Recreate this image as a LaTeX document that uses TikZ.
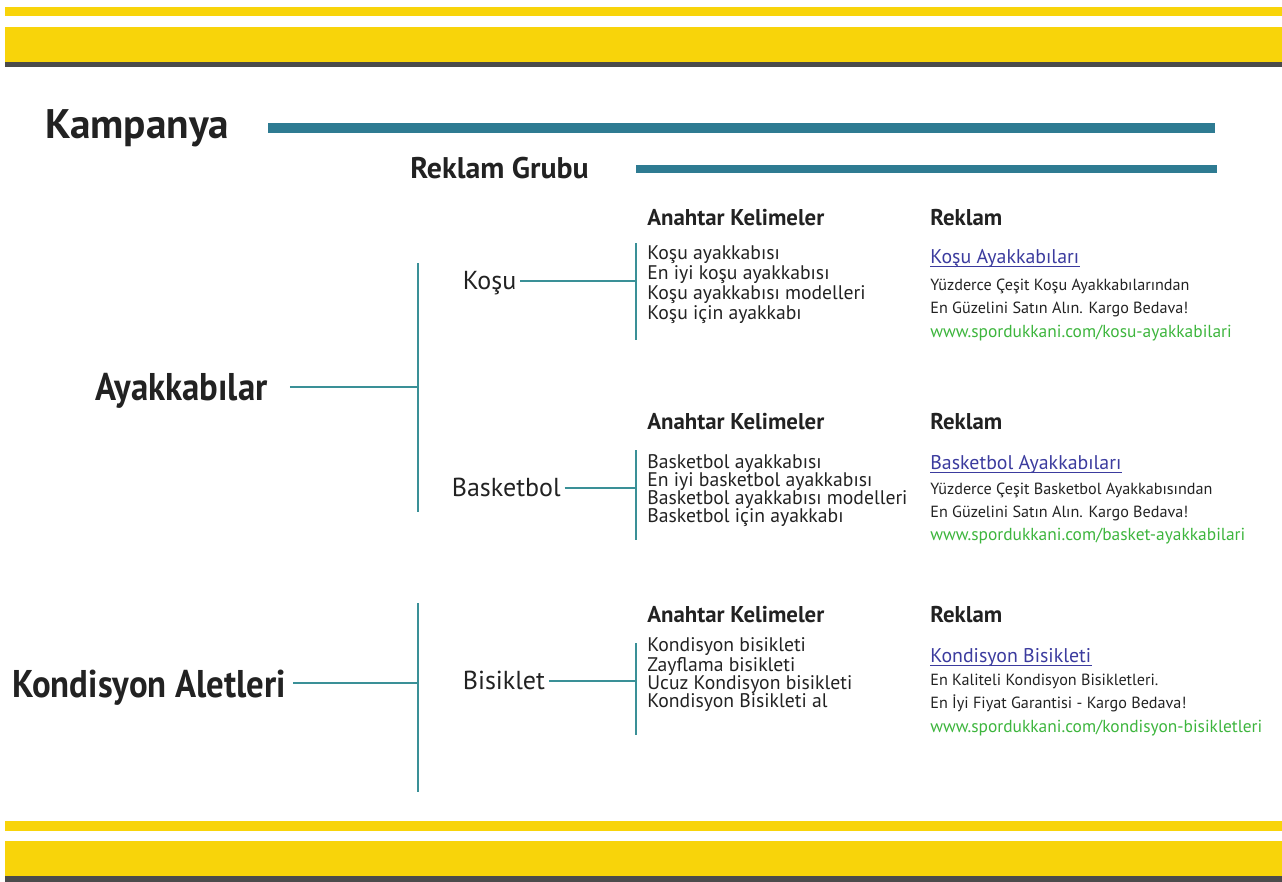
\documentclass[tikz,border=0pt]{standalone}
\usepackage{fontspec}
\setmainfont{PT Sans}
\newfontfamily\narrowfont[FakeStretch=0.9]{PT Sans}
\usetikzlibrary{positioning}

\definecolor{baryellow}{HTML}{F8D40A}
\definecolor{bargray}{HTML}{4B4B4B}
\definecolor{campteal}{HTML}{2E7B92}
\definecolor{treeteal}{HTML}{3A9097}
\definecolor{inkgray}{HTML}{222222}
\definecolor{linkblue}{HTML}{3B3B9E}
\definecolor{urlgreen}{HTML}{3DB53D}

\begin{document}
\begin{tikzpicture}[
        x=0.02cm, y=-0.02cm,
        bar/.style={fill=baryellow, draw=none},
        shadow/.style={fill=bargray, draw=none},
        campline/.style={draw=campteal, line width=0.2cm},
        groupline/.style={draw=campteal, line width=0.16cm},
        branch/.style={draw=treeteal, line width=0.04cm},
        title/.style={anchor=base west, inner sep=0pt, text=inkgray, font=\bfseries\fontsize{23.5}{26}\selectfont},
        subtitle/.style={title, font=\bfseries\fontsize{17}{20}\selectfont},
        category/.style={title, font=\narrowfont\bfseries\fontsize{22}{26}\selectfont},
        adgroup/.style={anchor=base west, inner sep=2pt, text=inkgray, font=\fontsize{14.8}{17}\selectfont},
        colhead/.style={anchor=base west, inner sep=0pt, text=inkgray, font=\bfseries\fontsize{13}{15}\selectfont},
        keywords/.style={anchor=base west, inner sep=0pt, align=left, text=inkgray, font=\fontsize{11.2}{10.24}\selectfont},
        adtitle/.style={anchor=base west, inner sep=0pt, text=linkblue, font=\fontsize{11.3}{13}\selectfont},
        adtext/.style={anchor=base west, inner sep=0pt, align=left, text=inkgray, font=\fontsize{9.2}{12.8}\selectfont},
        adurl/.style={anchor=base west, inner sep=0pt, text=urlgreen, font=\fontsize{9.9}{12}\selectfont}
    ]
        \useasboundingbox (0,0) rectangle (1282,882);

        % yellow bands
        \fill[bar] (5,7) rectangle (1282,16);
        \fill[bar] (5,27) rectangle (1282,62);
        \fill[shadow] (5,62) rectangle (1282,67);
        \fill[bar] (5,821) rectangle (1282,831);
        \fill[bar] (5,841) rectangle (1282,876);
        \fill[shadow] (5,876) rectangle (1282,882);

        % levels
        \node[title] (campaign) at (45,139) {Kampanya};
        \coordinate (campstart) at (268,128);
        \coordinate (campend) at (1215,128);
        \draw[campline] (campstart) -- (campend);

        \node[subtitle] (adgroups) at (410,178) {Reklam Grubu};
        \coordinate (groupstart) at (636,169);
        \coordinate (groupend) at (1217,169);
        \draw[groupline] (groupstart) -- (groupend);

        % categories
        \node[category] (shoes) at (95,400) {Ayakkabılar};
        \node[category] (fitness) at (12,697) {Kondisyon Aletleri};
        \coordinate (shoesjoin) at (418,387);
        \coordinate (fitnessjoin) at (418,683);
        \coordinate (shoestop) at (418,263);
        \coordinate (shoesbot) at (418,512);
        \coordinate (fitnesstop) at (418,603);
        \coordinate (fitnessbot) at (418,792);

        % ad groups
        \node[adgroup] (running) at (459,289) {Koşu};
        \node[adgroup] (basket) at (448,496) {Basketbol};
        \node[adgroup] (bike) at (459,689) {Bisiklet};
        \coordinate (runningjoin) at (636,281);
        \coordinate (basketjoin) at (636,488);
        \coordinate (bikejoin) at (636,681);
        \coordinate (runningtop) at (636,243);
        \coordinate (runningbot) at (636,340);
        \coordinate (baskettop) at (636,450);
        \coordinate (basketbot) at (636,540);
        \coordinate (biketop) at (636,643);
        \coordinate (bikebot) at (636,735);

        % keywords and ads
        \node[colhead] (kwrunning) at (647,225) {Anahtar Kelimeler};
        \node[colhead] (adrunning) at (930,225) {Reklam};
        \node[keywords] (listrunning) at (647,319) {Koşu ayakkabısı\\En iyi koşu ayakkabısı\\Koşu ayakkabısı modelleri\\Koşu için ayakkabı};
        \node[adtitle] (headrunning) at (930,263) {Koşu Ayakkabıları};
        \node[adtext] (textrunning) at (930,313) {Yüzderce Çeşit Koşu Ayakkabılarından\\En Güzelini Satın Alın. Kargo Bedava!};
        \node[adurl] (urlrunning) at (930,337) {www.spordukkani.com/kosu-ayakkabilari};

        \node[colhead] (kwbasket) at (647,429) {Anahtar Kelimeler};
        \node[colhead] (adbasket) at (930,429) {Reklam};
        \node[keywords] (listbasket) at (647,522) {Basketbol ayakkabısı\\En iyi basketbol ayakkabısı\\Basketbol ayakkabısı modelleri\\Basketbol için ayakkabı};
        \node[adtitle] (headbasket) at (930,469) {Basketbol Ayakkabıları};
        \node[adtext] (textbasket) at (930,517) {Yüzderce Çeşit Basketbol Ayakkabısından\\En Güzelini Satın Alın. Kargo Bedava!};
        \node[adurl] (urlbasket) at (930,540) {www.spordukkani.com/basket-ayakkabilari};

        \node[colhead] (kwbike) at (647,622) {Anahtar Kelimeler};
        \node[colhead] (adbike) at (930,622) {Reklam};
        \node[keywords] (listbike) at (647,707) {Kondisyon bisikleti\\Zayflama bisikleti\\Ucuz Kondisyon bisikleti\\Kondisyon Bisikleti al};
        \node[adtitle] (headbike) at (930,662) {Kondisyon Bisikleti};
        \node[adtext] (textbike) at (930,708) {En Kaliteli Kondisyon Bisikletleri.\\En İyi Fiyat Garantisi - Kargo Bedava!};
        \node[adurl] (urlbike) at (930,732) {www.spordukkani.com/kondisyon-bisikletleri};

        \draw[linkblue, line width=0.6pt] ([yshift=-2pt]headrunning.base west) -- ([yshift=-2pt]headrunning.base east);
        \draw[linkblue, line width=0.6pt] ([yshift=-2pt]headbasket.base west) -- ([yshift=-2pt]headbasket.base east);
        \draw[linkblue, line width=0.6pt] ([yshift=-2pt]headbike.base west) -- ([yshift=-2pt]headbike.base east);

        % tree
        \draw[branch] (shoestop) -- (shoesbot);
        \draw[branch] (fitnesstop) -- (fitnessbot);
        \draw[branch, shorten <=0.44cm] (shoes.east |- shoesjoin) -- (shoesjoin);
        \draw[branch, shorten <=0.14cm] (fitness.east |- fitnessjoin) -- (fitnessjoin);

        \draw[branch] (runningtop) -- (runningbot);
        \draw[branch] (baskettop) -- (basketbot);
        \draw[branch] (biketop) -- (bikebot);
        \draw[branch] (running.east |- runningjoin) -- (runningjoin);
        \draw[branch] (basket.east |- basketjoin) -- (basketjoin);
        \draw[branch] (bike.east |- bikejoin) -- (bikejoin);
    \end{tikzpicture}
\end{document}
